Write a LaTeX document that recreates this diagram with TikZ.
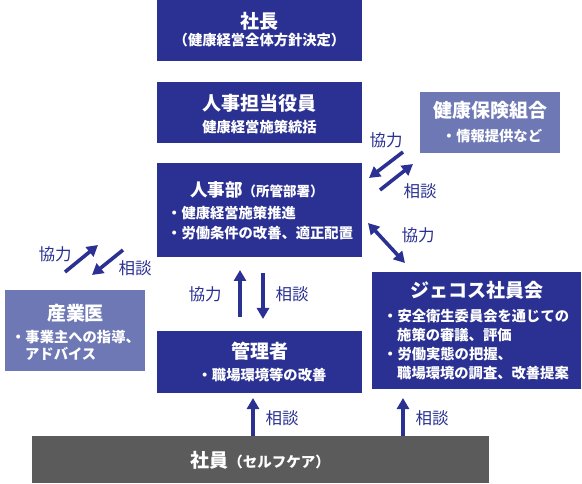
\documentclass[tikz,border=0pt]{standalone}
\usepackage{fontspec}
\setmainfont{Noto Sans CJK JP}
\usetikzlibrary{arrows.meta}
\definecolor{jblue}{HTML}{2B3192}
\definecolor{jlav}{HTML}{6D78B4}
\definecolor{jgray}{HTML}{5B5B5B}
\tikzset{
  boxbase/.style={anchor=north west, inner sep=0pt, outer sep=0pt, rectangle},
  bluebox/.style={boxbase, fill=jblue},
  lavbox/.style={boxbase, fill=jlav},
  graybox/.style={boxbase, fill=jgray},
  ttl/.style={inner sep=0pt, text=white, font=\fontsize{19}{21}\selectfont\bfseries},
  sub/.style={inner sep=0pt, text=white, font=\fontsize{14.3}{16}\selectfont\bfseries},
  subl/.style={sub, anchor=west},
  lbl/.style={inner sep=0pt, text=jblue, font=\fontsize{16.5}{18}\selectfont},
  arr/.style={draw=jblue, line width=3.6pt, -{Triangle[width=12pt,length=11pt]}},
  darr/.style={draw=jblue, line width=3.6pt, {Triangle[width=12pt,length=11pt]}-{Triangle[width=12pt,length=11pt]}},
}
\begin{document}
\begin{tikzpicture}[x=1pt,y=-1pt]
\useasboundingbox (0,0) rectangle (582,484);
% boxes
\node[bluebox, minimum width=205pt, minimum height=61pt] (shacho) at (157,0) {};
\node[bluebox, minimum width=205pt, minimum height=61pt] (yakuin) at (157,82) {};
\node[bluebox, minimum width=205pt, minimum height=94pt] (jinji) at (157,163) {};
\node[bluebox, minimum width=205pt, minimum height=62pt] (kanri) at (157,331) {};
\node[bluebox, minimum width=209pt, minimum height=117pt] (jecos) at (372,272) {};
\node[lavbox, minimum width=140pt, minimum height=61pt] (kenpo) at (420,92) {};
\node[lavbox, minimum width=140pt, minimum height=81pt] (sangyo) at (5,290) {};
\node[graybox, minimum width=457pt, minimum height=47pt] (shain) at (32,436) {};
% texts
\node[ttl] (t1) at (259.5,21) {社長};
\node[sub] (t1s) at (259.5,40) {（健康経営全体方針決定）};
\node[ttl] (t2) at (259.5,103) {人事担当役員};
\node[sub] (t2s) at (259.5,127) {健康経営施策統括};
\node[ttl, anchor=west, font=\fontsize{17.5}{20}\selectfont\bfseries] (t3) at (190,190) {人事部\fontsize{13.5}{16}\selectfont（所管部署）};
\node[subl] (t3a) at (167,213) {・健康経営施策推進};
\node[subl] (t3b) at (167,233) {・労働条件の改善、適正配置};
\node[ttl] (t4) at (259.5,351) {管理者};
\node[sub] (t4s) at (262,375) {・職場環境等の改善};
\node[ttl] (t5) at (476.5,290) {ジェコス社員会};
\node[subl] (t5a) at (383,316) {・安全衛生委員会を通じての};
\node[subl] (t5b) at (397,335) {施策の審議、評価};
\node[subl] (t5c) at (383,354) {・労働実態の把握、};
\node[subl] (t5d) at (397,373) {職場環境の調査、改善提案};
\node[ttl] (t6) at (490,110) {健康保険組合};
\node[sub] (t6s) at (492,136) {・情報提供など};
\node[ttl] (t7) at (75.5,313) {産業医};
\node[subl] (t7a) at (11,337) {・事業主への指導、};
\node[subl] (t7b) at (25,354) {アドバイス};
\node[ttl] (t8) at (260,460) {社員\fontsize{14.5}{16}\selectfont（セルフケア）};
% connector end points
\coordinate (a1s) at (240,317); \coordinate (a1e) at (240,270);
\coordinate (a2s) at (263,273); \coordinate (a2e) at (263,319);
\coordinate (a3s) at (253,436); \coordinate (a3e) at (253,398);
\coordinate (a4s) at (403,436); \coordinate (a4e) at (403,398);
\coordinate (k1s) at (403,152); \coordinate (k1e) at (369,178);
\coordinate (k2s) at (380,190); \coordinate (k2e) at (413,164);
\coordinate (j1s) at (368,223); \coordinate (j1e) at (405,263);
\coordinate (s1s) at (65,272);  \coordinate (s1e) at (98,245);
\coordinate (s2s) at (123,250); \coordinate (s2e) at (92,275);
% arrows
\draw[arr] (a1s) -- (a1e);
\draw[arr] (a2s) -- (a2e);
\draw[arr] (a3s) -- (a3e);
\draw[arr] (a4s) -- (a4e);
\draw[arr] (k1s) -- (k1e);
\draw[arr] (k2s) -- (k2e);
\draw[darr] (j1s) -- (j1e);
\draw[arr] (s1s) -- (s1e);
\draw[arr] (s2s) -- (s2e);
% labels
\node[lbl] (l1) at (205,294) {協力};
\node[lbl] (l2) at (292,294) {相談};
\node[lbl] (l3) at (282,418) {相談};
\node[lbl] (l4) at (432,418) {相談};
\node[lbl] (l5) at (386,140) {協力};
\node[lbl] (l6) at (420,191) {相談};
\node[lbl] (l7) at (418,235) {協力};
\node[lbl] (l8) at (55,254) {協力};
\node[lbl] (l9) at (135,268) {相談};
\end{tikzpicture}
\end{document}
